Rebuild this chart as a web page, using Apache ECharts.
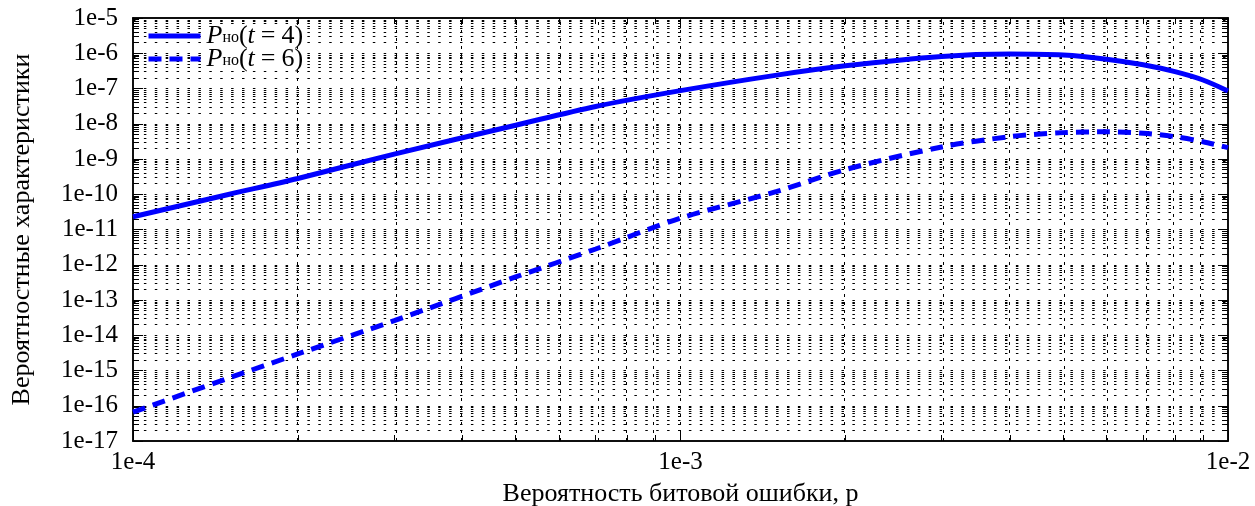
<!DOCTYPE html>
<html>
<head>
<meta charset="utf-8">
<script src="https://cdn.jsdelivr.net/npm/echarts@6/dist/echarts.min.js"></script>
<style>
  html, body { margin: 0; padding: 0; background: #fff; }
  #chart { width: 1255px; height: 506px; }
</style>
</head>
<body>
<div id="chart"></div>
<script>
// Bit error probability p (x values)
const pValues = [1e-4, 1.5e-4, 2e-4, 3e-4, 5e-4, 7e-4, 1e-3, 1.5e-3, 2e-3,
                 3e-3, 4e-3, 5e-3, 6e-3, 7e-3, 8e-3, 9e-3, 1e-2];
// P_но for t = 4
const pT4 = [2.3e-11, 1.0e-10, 2.8e-10, 1.38e-9, 9.1e-9, 3.1e-8, 8.7e-8, 2.4e-7, 4.4e-7,
             8.1e-7, 9.5e-7, 8.9e-7, 6.8e-7, 4.7e-7, 3.0e-7, 1.74e-7, 8.5e-8];
// P_но for t = 6
const pT6 = [6.6e-17, 6.2e-16, 2.95e-15, 2.6e-14, 4.5e-13, 2.8e-12, 2.1e-11, 1.2e-10, 5.0e-10,
             2.2e-9, 4.3e-9, 5.6e-9, 5.9e-9, 5.4e-9, 4.3e-9, 3.1e-9, 2.1e-9];

// Decade exponents of both log axes and the in-between factors of each decade
const xDecades = [-4, -3, -2];
const yDecades = [-17, -16, -15, -14, -13, -12, -11, -10, -9, -8, -7, -6, -5];
const minorFactors = [2, 3, 4, 5, 6, 7, 8, 9];

const seriesNames = ['t4', 't6'];
const legendT = { t4: '4', t6: '6' };

const FONT = '"Liberation Serif", "DejaVu Serif", serif';
const lg = Math.log10;

// Axes are laid out in log10 units
function minorLogs(decades) {
  const out = [];
  for (let i = 0; i < decades.length - 1; i++) {
    minorFactors.forEach(f => out.push(decades[i] + lg(f)));
  }
  return out;
}
const xMinor = minorLogs(xDecades);
const yMinor = minorLogs(yDecades);
const xMin = xDecades[0], xMax = xDecades[xDecades.length - 1];
const yMin = yDecades[0], yMax = yDecades[yDecades.length - 1];

// Grid lines: dotted horizontals at every decade and sub-decade, dotted verticals likewise
const hLines = yMinor.concat(yDecades.slice(1, -1)).map(v => ({
  yAxis: v,
  lineStyle: { color: '#000', width: 1, type: [2.5, 8.4] }
}));
const vLines = xMinor.concat(xDecades.slice(1, -1)).map(v => ({
  xAxis: v,
  lineStyle: { color: '#000', width: 1, type: [3, 5] }
}));

const toPoints = vals => pValues.map((p, i) => [lg(p), lg(vals[i])]);

const axisLine = { show: true, lineStyle: { color: '#000', width: 1.5 } };

function xAxisDef(position, major, showLabel) {
  return {
    type: 'value', position: position, min: xMin, max: xMax, interval: 1,
    axisLine: axisLine,
    axisTick: major
      ? { show: true, inside: true, length: 10, lineStyle: { color: '#000', width: 1 } }
      : { show: true, inside: true, length: 6, customValues: xMinor, lineStyle: { color: '#000', width: 1 } },
    axisLabel: showLabel
      ? { show: true, margin: 9, color: '#000', fontFamily: FONT, fontSize: 25, formatter: v => '1e' + v }
      : { show: false },
    splitLine: { show: false },
    name: showLabel ? 'Вероятность битовой ошибки, p' : '',
    nameLocation: 'middle', nameGap: 40,
    nameTextStyle: { color: '#000', fontFamily: FONT, fontSize: 26 }
  };
}
function yAxisDef(position, major, showLabel) {
  return {
    type: 'value', position: position, min: yMin, max: yMax, interval: 1,
    axisLine: axisLine,
    axisTick: major
      ? { show: true, inside: true, length: 10, lineStyle: { color: '#000', width: 1 } }
      : { show: true, inside: true, length: 6, customValues: yMinor, lineStyle: { color: '#000', width: 1 } },
    axisLabel: showLabel
      ? { show: true, margin: 15, color: '#000', fontFamily: FONT, fontSize: 25, formatter: v => '1e' + v }
      : { show: false },
    splitLine: { show: false },
    name: showLabel ? 'Вероятностные характеристики' : '',
    nameLocation: 'middle', nameGap: 98, nameRotate: 90,
    nameTextStyle: { color: '#000', fontFamily: FONT, fontSize: 26 }
  };
}

const legendRich = {
  p: { fontFamily: FONT, fontSize: 26, fontStyle: 'italic', color: '#000', lineHeight: 20 },
  s: { fontFamily: FONT, fontSize: 16, color: '#000', lineHeight: 8, verticalAlign: 'bottom' },
  n: { fontFamily: FONT, fontSize: 26, color: '#000', lineHeight: 20 },
  i: { fontFamily: FONT, fontSize: 26, fontStyle: 'italic', color: '#000', lineHeight: 20 },
  e: { fontFamily: FONT, fontSize: 26, color: '#000', lineHeight: 20, padding: [0, 6, 0, 6] }
};

const chart = echarts.init(document.getElementById('chart'), null, { renderer: 'canvas' });
chart.setOption({
  animation: false,
  backgroundColor: '#fff',
  grid: { left: 133, right: 27, top: 18, bottom: 65, containLabel: false, outerBoundsMode: 'none' },
  legend: {
    left: 146, top: 23, orient: 'vertical', padding: 0,
    itemWidth: 52, itemHeight: 14, itemGap: -3,
    data: seriesNames,
    lineStyle: { width: 5 },
    itemStyle: { color: 'rgba(0,0,0,0)', borderColor: 'rgba(0,0,0,0)', borderWidth: 0 },
    textStyle: { rich: legendRich, backgroundColor: '#fff', padding: [0, 3, 0, 1], lineHeight: 20 },
    formatter: name => '{p|P}{s|но}{n|(}{i|t}{e|=}{n|' + legendT[name] + ')}'
  },
  xAxis: [
    xAxisDef('bottom', true, true),
    xAxisDef('bottom', false, false),
    xAxisDef('top', true, false),
    xAxisDef('top', false, false)
  ],
  yAxis: [
    yAxisDef('left', true, true),
    yAxisDef('left', false, false),
    yAxisDef('right', true, false),
    yAxisDef('right', false, false)
  ],
  series: [
    {
      name: 't4', type: 'line', xAxisIndex: 0, yAxisIndex: 0,
      data: toPoints(pT4), smooth: 0.3, symbol: 'none', z: 5,
      lineStyle: { color: '#0000ff', width: 5, type: 'solid' },
      itemStyle: { color: '#0000ff' },
      markLine: {
        silent: true, symbol: ['none', 'none'], label: { show: false },
        animation: false, z: 1,
        data: hLines.concat(vLines)
      }
    },
    {
      name: 't6', type: 'line', xAxisIndex: 0, yAxisIndex: 0,
      data: toPoints(pT6), smooth: 0.3, symbol: 'none', z: 5,
      lineStyle: { color: '#0000ff', width: 5, type: [13, 8] },
      itemStyle: { color: '#0000ff' }
    }
  ]
});
</script>
</body>
</html>
